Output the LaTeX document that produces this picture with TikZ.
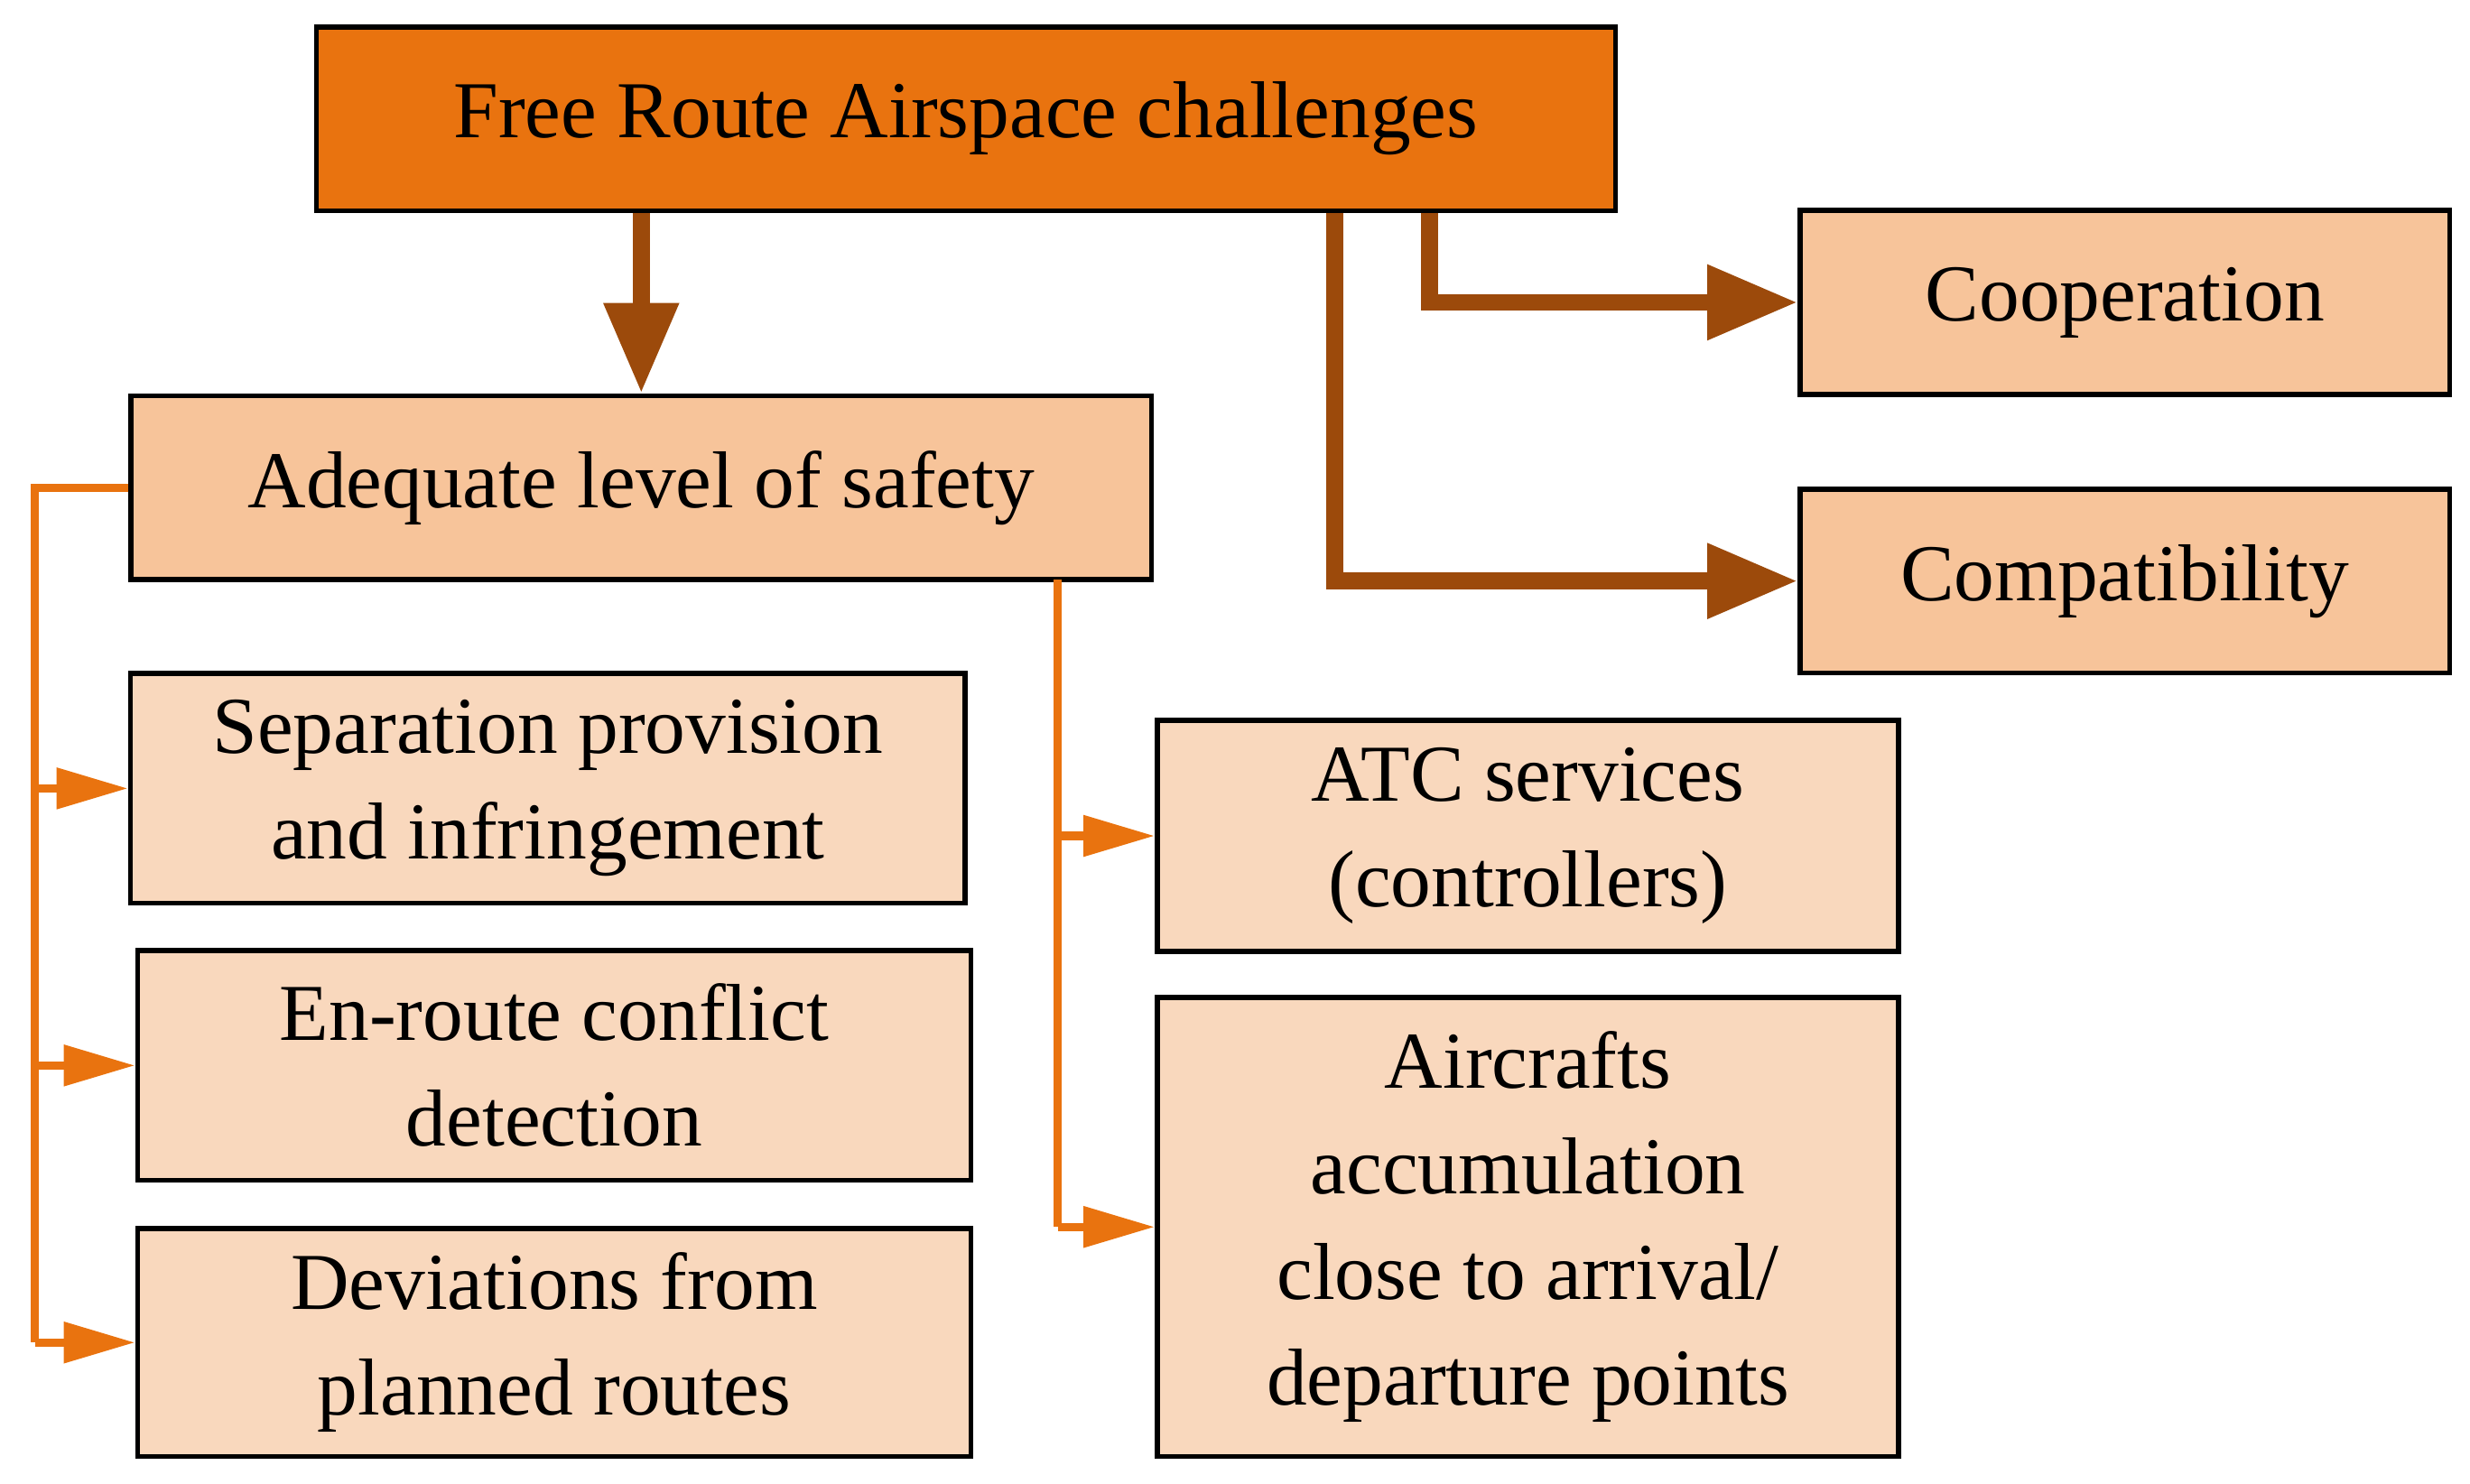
\documentclass[tikz,border=0pt]{standalone}
\usepackage{fontspec}
\setmainfont{Liberation Serif}
\usetikzlibrary{positioning,arrows.meta}
\definecolor{deeporange}{RGB}{233,115,15}
\definecolor{paleorange}{RGB}{247,196,154}
\definecolor{lightapricot}{RGB}{249,216,189}
\definecolor{rust}{RGB}{156,74,11}
\begin{document}
\begin{tikzpicture}[x=0.01cm,y=-0.01cm]
  \tikzset{
    boite/.style={draw,line width=0.9pt,align=center,inner sep=0pt,
      font=\fontsize{14.5}{19}\selectfont,text=black},
    boite haute/.style={boite,fill=deeporange},
    boite moyenne/.style={boite,fill=paleorange},
    boite claire/.style={boite,fill=lightapricot},
    fleche/.style={line width=1.5pt,draw=deeporange,
      -{Triangle[length=0.45cm,width=0.25cm]}},
    grosse fleche/.style={line width=3pt,draw=rust,
      -{Triangle[length=0.57cm,width=0.45cm]}},
  }
  \useasboundingbox (0,0) rectangle (1560,937);
  \node[boite haute,minimum width=8.2cm,minimum height=1.16cm] (a) at (610,75) {Free Route Airspace challenges};
  \node[boite moyenne,minimum width=6.44cm,minimum height=1.16cm] (b) at (405,308) {Adequate level of safety};
  \node[boite moyenne,minimum width=4.1cm,minimum height=1.16cm] (c) at (1342,191) {Cooperation};
  \node[boite moyenne,minimum width=4.1cm,minimum height=1.16cm] (d) at (1342,367) {Compatibility};
  \node[boite claire,minimum width=5.27cm,minimum height=1.45cm] (e) at (346,498) {Separation provision\\and infringement};
  \node[boite claire,minimum width=5.26cm,minimum height=1.45cm] (f) at (350,673) {En-route conflict\\detection};
  \node[boite claire,minimum width=5.26cm,minimum height=1.44cm] (g) at (350,848) {Deviations from\\planned routes};
  \node[boite claire,minimum width=4.68cm,minimum height=1.46cm] (h) at (965,528) {ATC services\\(controllers)};
  \node[boite claire,minimum width=4.68cm,minimum height=2.9cm] (i) at (965,775) {Aircrafts\\accumulation\\close to arrival/\\departure points};
  \coordinate (p) at (22,308);
  \coordinate (q) at (668,366);

  \draw[grosse fleche] (a.south -| b) -- (b.north);
  \draw[grosse fleche] (a.south -| 903,0) |- (c.west);
  \draw[grosse fleche] (a.south -| 843,0) |- (d.west);

  \draw[line width=1.5pt,deeporange] (b.west) -- (p) -- (p |- g.west);
  \draw[fleche] (p |- e.west) -- (e.west);
  \draw[fleche] (p |- f.west) -- (f.west);
  \draw[fleche] (p |- g.west) -- (g.west);
  \draw[line width=1.5pt,deeporange] (q) -- (q |- i.west);
  \draw[fleche] (q |- h.west) -- (h.west);
  \draw[fleche] (q |- i.west) -- (i.west);
\end{tikzpicture}
\end{document}
